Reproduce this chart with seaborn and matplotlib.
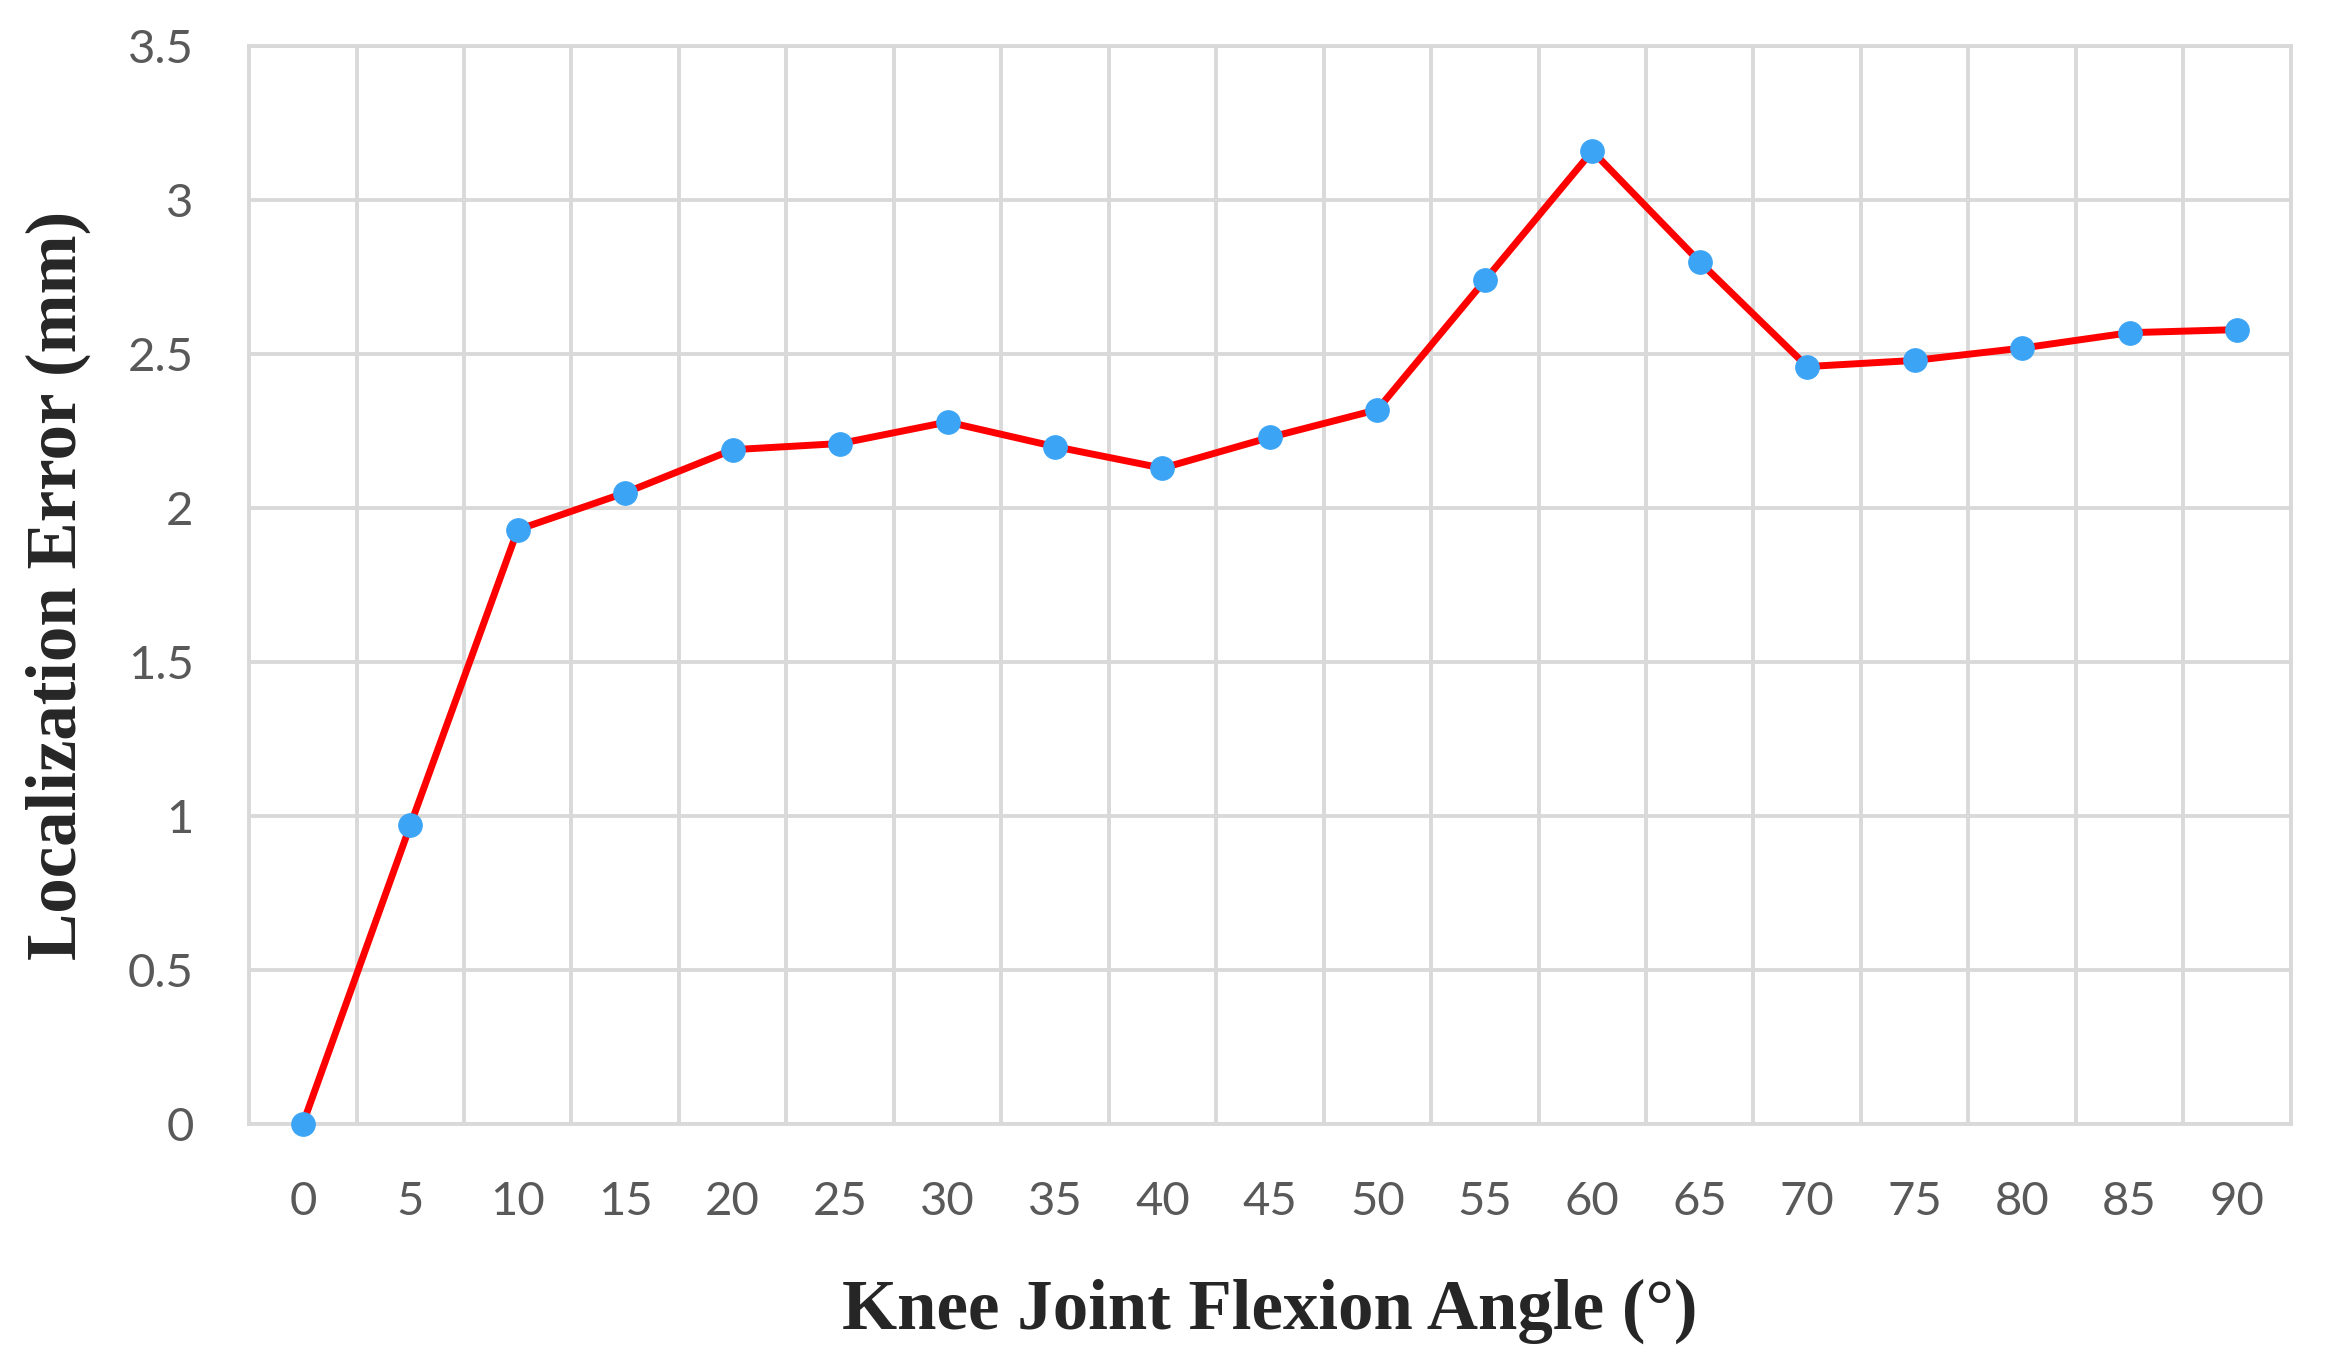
"""
knee joint localization error chart
"""

# data science
import numpy as np
import pandas as pd

# visualization
import seaborn as sns
import matplotlib.pyplot as plt


# data
angles = [0, 5, 10, 15, 20, 25, 30, 35, 40, 45, 50, 55, 60, 65, 70, 75, 80, 85, 90]
errors = [0.0, 0.97, 1.93, 2.05, 2.19, 2.21, 2.28, 2.20, 2.13, 2.23, 2.32,
          2.74, 3.16, 2.80, 2.46, 2.48, 2.52, 2.57, 2.58]
y_ticks = [0, 0.5, 1, 1.5, 2, 2.5, 3, 3.5]
y_tick_labels = ["0", "0.5", "1", "1.5", "2", "2.5", "3", "3.5"]

df = pd.DataFrame({"angle": angles, "error": errors})


# configurations
sns.set_style("white")
plt.rcParams["font.family"] = ["Lato", "DejaVu Sans"]


# instantiate
fig, ax = plt.subplots(figsize=(23.28, 13.64), dpi=100)
fig.subplots_adjust(left=0.107, right=0.984, top=0.966, bottom=0.176)


# plot data
sns.lineplot(data=df, x="angle", y="error", ax=ax, color="#ff0000", linewidth=5,
             marker="o", markersize=17, markerfacecolor="#3ba4f5",
             markeredgecolor="#3ba4f5", clip_on=False, zorder=5)


# grid: horizontal at each 0.5, vertical between categories
ax.set_xlim(-2.5, 92.5)
ax.set_ylim(0, 3.5)
ax.set_xticks(angles)
ax.set_xticklabels([str(a) for a in angles])
ax.set_xticks(np.array(angles[:-1]) + 2.5, minor=True)
ax.set_yticks(y_ticks)
ax.set_yticklabels(y_tick_labels)
ax.grid(False)
ax.grid(axis="y", which="major", color="#d9d9d9", linewidth=2.8)
ax.grid(axis="x", which="minor", color="#d9d9d9", linewidth=2.8)
for side in ["top", "right", "left", "bottom"]:
    ax.spines[side].set_visible(True)
    ax.spines[side].set_color("#d9d9d9")
    ax.spines[side].set_linewidth(2.8)
ax.tick_params(axis="both", which="both", length=0, labelsize=34, labelcolor="#595959")
ax.tick_params(axis="x", pad=41)
ax.tick_params(axis="y", pad=40)


# polish
ax.set_xlabel("Knee Joint Flexion Angle (°)", fontsize=51, fontweight="bold",
              family=["Liberation Serif", "DejaVu Serif"], labelpad=40)
ax.set_ylabel("Localization Error (mm)", fontsize=51, fontweight="bold",
              family=["Liberation Serif", "DejaVu Serif"], labelpad=26)

plt.savefig("out.png", dpi=100)
